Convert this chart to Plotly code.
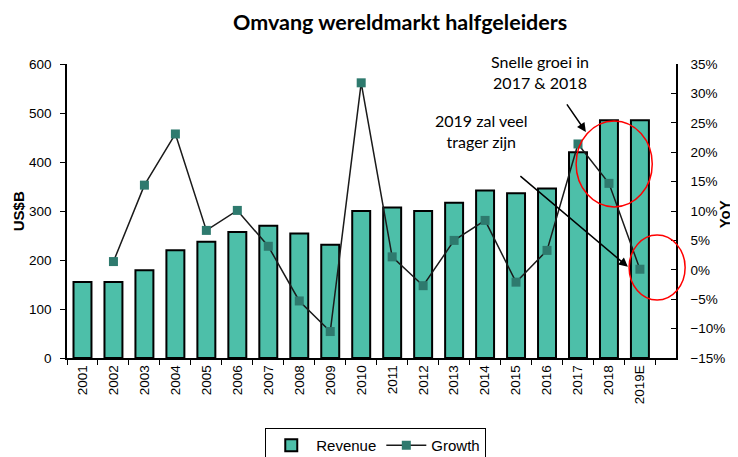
import plotly.graph_objects as go

years = ["2001", "2002", "2003", "2004", "2005", "2006", "2007", "2008", "2009", "2010",
         "2011", "2012", "2013", "2014", "2015", "2016", "2017", "2018", "2019E"]
revenue = [155, 155, 179, 220, 237, 257, 270, 254, 231, 300,
           307, 300, 317, 342, 336, 346, 420, 485, 485]
growth_years = years[1:]
growth = [1.4, 14.4, 23.1, 6.7, 10.1, 4.0, -5.3, -10.5, 31.8,
          2.2, -2.7, 5.0, 8.4, -2.1, 3.3, 21.4, 14.7, 0.1]

title_text = "Omvang wereldmarkt halfgeleiders"
note1 = "Snelle groei in<br>2017 & 2018"
note2 = "2019 zal veel<br>trager zijn"
left_title = "US$B"
right_title = "YoY"

FONT = "Liberation Sans"
CAL = "Lato"

fig = go.Figure()
fig.add_trace(go.Bar(
    x=years, y=revenue, name="Revenue",
    marker=dict(color="#4DBFA9", line=dict(color="black", width=2)),
    width=0.58, yaxis="y",
))
fig.add_trace(go.Scatter(
    x=growth_years, y=growth, name="Growth", mode="lines+markers",
    line=dict(color="#1a1a1a", width=1.5),
    marker=dict(symbol="square", size=9, color="#2E7A6E"),
    yaxis="y2",
))

fig.update_layout(
    width=738, height=457,
    margin=dict(l=59, r=70, t=56, b=107, autoexpand=False),
    paper_bgcolor="white", plot_bgcolor="white",
    font=dict(family=FONT, size=13.5, color="black"),
    title=dict(text="<b>" + title_text + "</b>", x=0.547, xref="paper", y=1 - 14 / 457,
               yanchor="middle", xanchor="center",
               font=dict(family=CAL, size=21.5, color="black")),
    xaxis=dict(type="category", tickangle=-90, showline=True, linecolor="black", linewidth=1.5,
               ticks="outside", ticklen=5, tickcolor="black", tickson="boundaries",
               showgrid=False, tickfont=dict(size=13.5), automargin=False),
    yaxis=dict(range=[0, 600], dtick=100, showline=True, linecolor="black", linewidth=1.5,
               ticks="outside", ticklen=5, tickcolor="black", showgrid=False, zeroline=False,
               automargin=False, tickfont=dict(size=13.5), ticklabelstandoff=6),
    yaxis2=dict(range=[-15, 35], dtick=5, ticksuffix="%", overlaying="y", side="right",
                showline=True, linecolor="black", linewidth=1.5, ticks="inside", ticklen=5,
                tickcolor="black", showgrid=False, zeroline=False, automargin=False,
                tickfont=dict(size=13.5), ticklabelstandoff=10),
    legend=dict(orientation="h", x=0.507, y=-0.238, xanchor="center", yanchor="top",
                bordercolor="black", borderwidth=1, font=dict(size=15),
                itemwidth=40, tracegroupgap=0),
    showlegend=True,
)

fig.add_annotation(text="<b>" + left_title + "</b>", xref="paper", yref="paper",
                   x=-0.08, y=0.50, showarrow=False, textangle=-90,
                   font=dict(size=15), xanchor="center", yanchor="middle")
fig.add_annotation(text="<b>" + right_title + "</b>", xref="paper", yref="paper",
                   x=1.081, y=0.49, showarrow=False, textangle=-90,
                   font=dict(size=15), xanchor="center", yanchor="middle")

fig.add_shape(type="circle", xref="paper", yref="paper", x0=0.836, x1=0.961, y0=0.514, y1=0.806,
              line=dict(color="red", width=1.5))
fig.add_shape(type="circle", xref="paper", yref="paper", x0=0.923, x1=1.015, y0=0.197, y1=0.418,
              line=dict(color="red", width=1.5))

fig.add_annotation(text=note1, xref="paper", yref="paper", x=0.777, y=0.973, showarrow=False,
                   xanchor="center", yanchor="middle",
                   font=dict(family=CAL, size=16), align="center")
fig.add_annotation(text=note2, xref="paper", yref="paper", x=0.681, y=0.772, showarrow=False,
                   xanchor="center", yanchor="middle",
                   font=dict(family=CAL, size=16), align="center")
fig.add_annotation(text="", xref="paper", yref="paper", x=0.852, y=0.769, ax=-20, ay=-29,
                   showarrow=True, arrowhead=2, arrowsize=1.2, arrowwidth=1.5, arrowcolor="black")
fig.add_annotation(text="", xref="paper", yref="paper", x=0.921, y=0.310, ax=-109, ay=-92,
                   showarrow=True, arrowhead=2, arrowsize=1.2, arrowwidth=1.5, arrowcolor="black")

fig.write_html("out.html")
